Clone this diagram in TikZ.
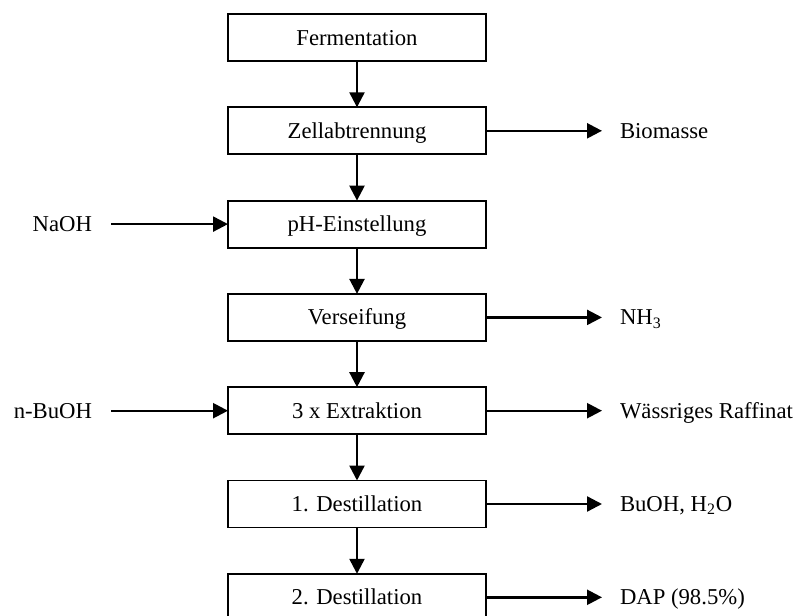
\documentclass[tikz,border=0pt]{standalone}
\usepackage{fontspec}
\setmainfont{Liberation Serif}
\usetikzlibrary{positioning, arrows.meta}

\begin{document}
\begin{tikzpicture}[line width=1pt, every node/.style={font=\fontsize{11.35}{13.6}\selectfont, text height=7.5pt, text depth=0pt, inner sep=0pt, outer sep=0pt},
    proc/.style={draw, line width=0.9pt, minimum width=129pt, minimum height=23.5pt},
    flow/.style={line width=1.2pt, -{Triangle[length=7.5pt,width=7.5pt]}}]
            \useasboundingbox (0,0) rectangle (400pt,-308pt);
            % main line
            \node[proc] (ferm) at (178.5pt,-18.75pt) {Fermentation};
            \node[proc, below=23.15pt of ferm] (zell) {Zellabtrennung};
            \node[proc, below=23.15pt of zell] (ph) {pH-Einstellung};
            \node[proc, below=23.15pt of ph] (vers) {Verseifung};
            \node[proc, below=23.15pt of vers] (extr) {3 x Extraktion};
            \node[proc, below=23.15pt of extr] (dest1) {1. Destillation};
            \node[proc, below=23.15pt of dest1] (dest2) {2. Destillation};
            \draw[flow] (ferm) -- (zell);
            \draw[flow] (zell) -- (ph);
            \draw[flow] (ph) -- (vers);
            \draw[flow] (vers) -- (extr);
            \draw[flow] (extr) -- (dest1);
            \draw[flow] (dest1) -- (dest2);
            % feeds
            \node[left=68pt of ph] (naoh) {NaOH};
            \node[left=68pt of extr] (buoh) {n-BuOH};
            \draw[flow, shorten <=9.5pt] (naoh) -- (ph);
            \draw[flow, shorten <=9.5pt] (buoh) -- (extr);
            % outlets
            \node[right=67pt of zell] (bio) {Biomasse};
            \node[right=67pt of vers] (nh3) {NH\textsubscript{3}};
            \node[right=67pt of extr] (raff) {Wässriges Raffinat};
            \node[right=67pt of dest1] (h2o) {BuOH, H\textsubscript{2}O};
            \node[right=67pt of dest2] (dap) {DAP (98.5\%)};
            \draw[flow, shorten >=9pt] (zell) -- (bio);
            \draw[flow, shorten >=9pt] (vers) -- (nh3);
            \draw[flow, shorten >=9pt] (extr) -- (raff);
            \draw[flow, shorten >=9pt] (dest1) -- (h2o);
            \draw[flow, shorten >=9pt] (dest2) -- (dap);
        \end{tikzpicture}
\end{document}
